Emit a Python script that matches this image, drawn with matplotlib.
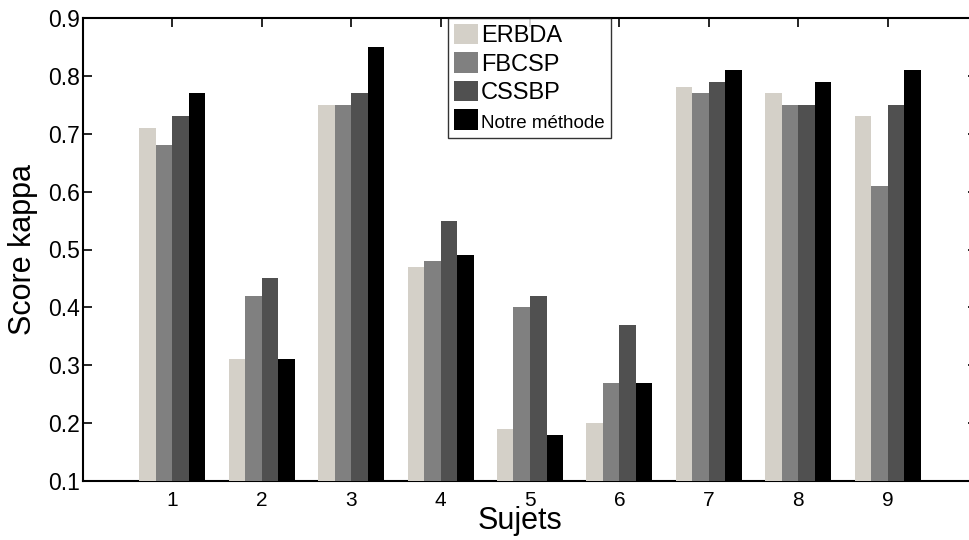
import numpy as np
import matplotlib.pyplot as plt

plt.rcParams['font.family'] = ['Liberation Sans', 'DejaVu Sans']

sujets = [1, 2, 3, 4, 5, 6, 7, 8, 9]
erbda = [0.71, 0.31, 0.75, 0.47, 0.19, 0.20, 0.78, 0.77, 0.73]
fbcsp = [0.68, 0.42, 0.75, 0.48, 0.40, 0.27, 0.77, 0.75, 0.61]
cssbp = [0.73, 0.45, 0.77, 0.55, 0.42, 0.37, 0.79, 0.75, 0.75]
notre = [0.77, 0.31, 0.85, 0.49, 0.18, 0.27, 0.81, 0.79, 0.81]

series = [erbda, fbcsp, cssbp, notre]
labels = ['ERBDA', 'FBCSP', 'CSSBP', 'Notre méthode']
colors = ['#d4d0c8', '#808080', '#505050', '#000000']

fig = plt.figure(figsize=(9.7, 5.4), dpi=100)
# axes run a bit past the right edge of the picture, like the reference
ax = fig.add_axes([83/970, 1 - 481/540, (977 - 83)/970, (481 - 18)/540])

x = np.array(sujets)
w = 0.185
for i, (vals, lab, c) in enumerate(zip(series, labels, colors)):
    ax.bar(x + (i - 1.5) * w, np.array(vals) - 0.1, w, bottom=0.1,
           color=c, label=lab, zorder=3, linewidth=0)

ax.set_xlim(0, 10)
ax.set_ylim(0.1, 0.9)
ax.set_xticks(sujets)
ax.set_yticks(np.arange(0.1, 0.91, 0.1))
ax.set_yticklabels(['0.1', '0.2', '0.3', '0.4', '0.5', '0.6', '0.7', '0.8', '0.9'])
ax.tick_params(direction='in', top=True, right=True, length=6.5, width=1.2)
ax.tick_params(axis='x', labelsize=15, pad=7)
ax.tick_params(axis='y', labelsize=16.5, pad=2)
ax.spines['right'].set_visible(False)
for s in ['left', 'top', 'bottom']:
    ax.spines[s].set_linewidth(1.5)

ax.set_xlabel('Sujets', fontsize=22)
ax.xaxis.set_label_coords((520 - 83)/894, -(506 - 481)/463)
ax.set_ylabel('Score kappa', fontsize=22)
ax.yaxis.set_label_coords((38 - 83)/894, 0.5)

leg = ax.legend(loc='upper left', bbox_to_anchor=((448 - 83)/894, 1.0),
                fontsize=17, frameon=True, fancybox=False, edgecolor='black',
                handlelength=1.0, handleheight=0.95, handletextpad=0.15,
                labelspacing=0.22, borderpad=0.25, borderaxespad=0)
leg.get_frame().set_linewidth(1.0)
leg.get_texts()[3].set_fontsize(13.5)

fig.savefig('out.png', dpi=100)
